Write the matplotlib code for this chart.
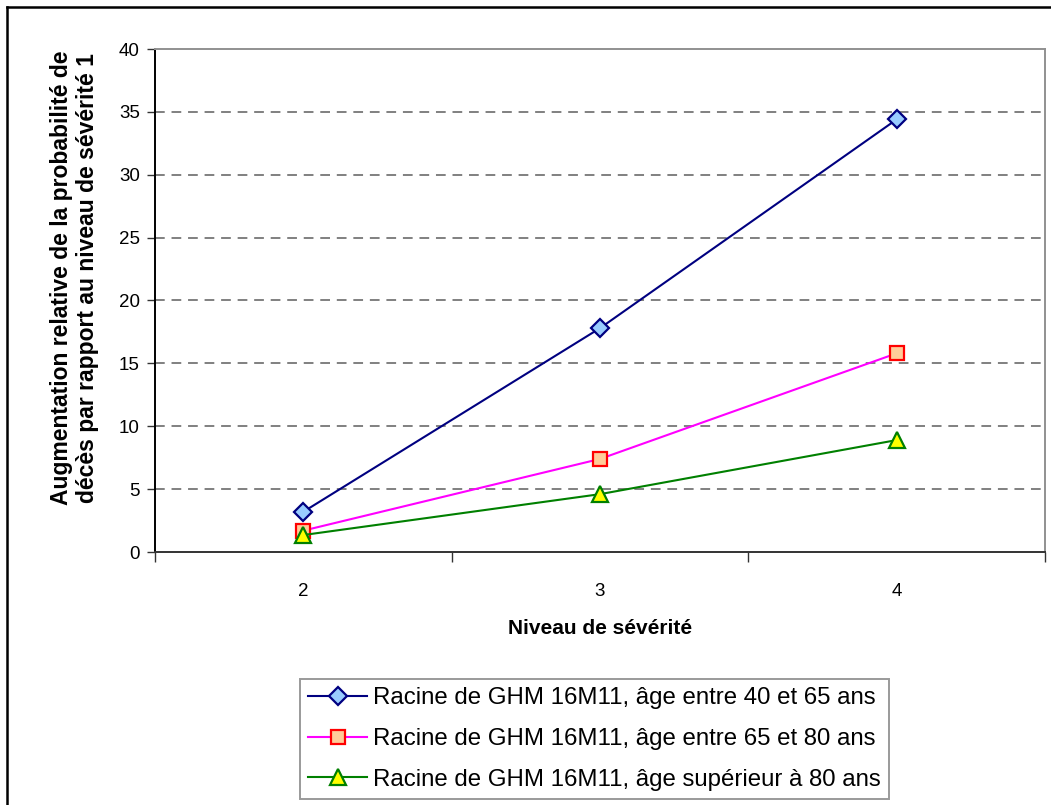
import matplotlib
matplotlib.use("Agg")
import matplotlib.pyplot as plt
from matplotlib.lines import Line2D
from matplotlib.ticker import FixedLocator, NullFormatter

plt.rcParams['font.family'] = ['Liberation Sans', 'DejaVu Sans']

# Data
niveaux = [2, 3, 4]
age_40_65 = [3.2, 17.8, 34.4]
age_65_80 = [1.7, 7.4, 15.8]
age_80_plus = [1.35, 4.6, 8.9]
labels = [
    "Racine de GHM 16M11, âge entre 40 et 65 ans",
    "Racine de GHM 16M11, âge entre 65 et 80 ans",
    "Racine de GHM 16M11, âge supérieur à 80 ans",
]
y_ticks = [0, 5, 10, 15, 20, 25, 30, 35, 40]

W, H = 1051, 805
fig = plt.figure(figsize=(W / 100, H / 100), dpi=100)

def fx(px):
    return px / W

def fy(py):
    return 1 - py / H

ax = fig.add_axes([fx(155), fy(552), fx(1045) - fx(155), fy(49) - fy(552)])

styles = [
    dict(color="#000080", marker="D", mfc="#99CCFF", mec="#000080", ms=9),
    dict(color="#FF00FF", marker="s", mfc="#FFCC99", mec="#FF0000", ms=10.5),
    dict(color="#008000", marker="^", mfc="#FFFF00", mec="#008000", ms=12),
]
series = [age_40_65, age_65_80, age_80_plus]
handles = []
for vals, st, lab in zip(series, styles, labels):
    ln, = ax.plot(niveaux, vals, lw=1.5, mew=1.6, label=lab, zorder=3, **st)
    handles.append(ln)

ax.set_xlim(1.5, 4.5)
ax.set_ylim(0, 40)
ax.set_yticks(y_ticks)
ax.set_xticks(niveaux)
ax.xaxis.set_minor_locator(FixedLocator([1.5, 2.5, 3.5, 4.5]))
ax.xaxis.set_minor_formatter(NullFormatter())
ax.tick_params(axis='x', which='major', length=0, pad=22, labelsize=13.5)
ax.tick_params(axis='x', which='minor', length=7, width=1, color="#333333", direction='out')
ax.tick_params(axis='y', length=6, width=1, color="#333333", direction='out', pad=5, labelsize=13.5)

for v in y_ticks[1:-1]:
    ax.axhline(v, color="#808080", lw=1.4, ls=(0, (5, 3.5)), zorder=1)

for side in ['top', 'right']:
    ax.spines[side].set_color("#909090")
    ax.spines[side].set_linewidth(1.4)
for side in ['left', 'bottom']:
    ax.spines[side].set_color("#333333")
    ax.spines[side].set_linewidth(1.4)
ax.spines['left'].set_color("#000000")

ax.set_xlabel("Niveau de sévérité", fontsize=15, fontweight='bold', labelpad=14)
ax.set_ylabel("Augmentation relative de la probabilité de\ndécès par rapport au niveau de sévérité 1",
              fontsize=16.5, fontweight='bold', linespacing=1.15)
ax.yaxis.set_label_coords((99 - 155) / 890, (552 - 278) / 503)

leg = fig.legend(handles=handles, loc='upper left',
                 bbox_to_anchor=(fx(300), fy(679)), bbox_transform=fig.transFigure,
                 fontsize=17.3, frameon=True, fancybox=False, handlelength=2.45,
                 handletextpad=0.25, labelspacing=0.78, borderpad=0.35, borderaxespad=0)
leg.get_frame().set_edgecolor("#808080")
leg.get_frame().set_linewidth(1.4)

# Outer chart border
fig.add_artist(Line2D([fx(7), fx(7)], [0, fy(7)], color="black", lw=1.8, transform=fig.transFigure))
fig.add_artist(Line2D([fx(7), 1], [fy(7), fy(7)], color="black", lw=1.8, transform=fig.transFigure))

fig.savefig("out.png", dpi=100)
